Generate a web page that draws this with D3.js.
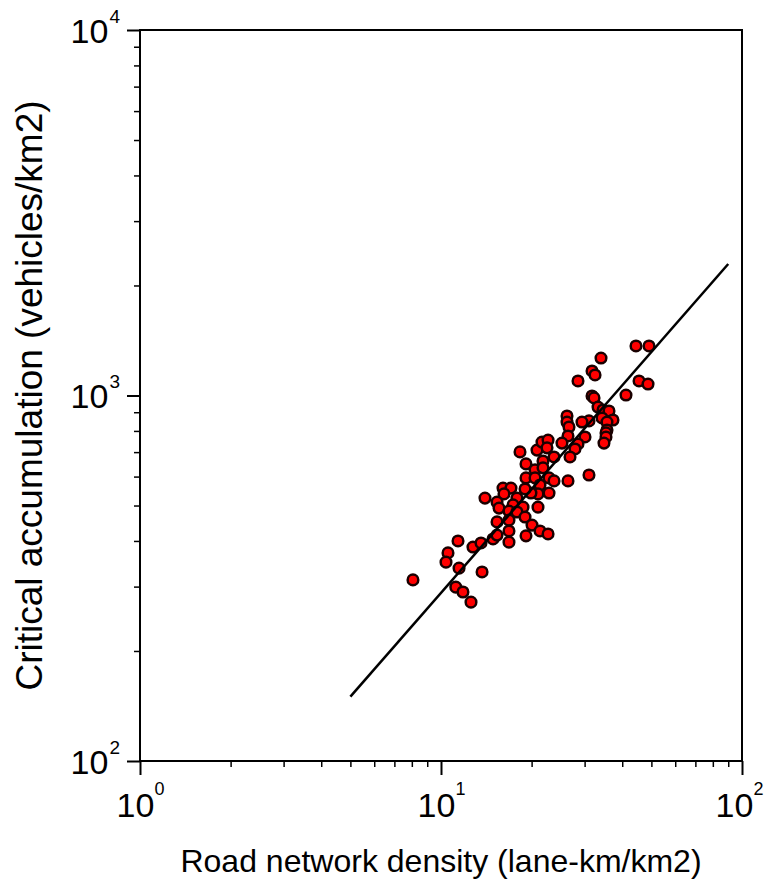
<!DOCTYPE html>
<html>
<head>
<meta charset="utf-8">
<script src="https://cdn.jsdelivr.net/npm/d3@7"></script>
<style>
  body { margin: 0; background: #fff; }
  text { font-family: Arial, "Liberation Sans", sans-serif; fill: #000; }
</style>
</head>
<body>
<div id="chart"></div>
<script>
// road network density (lane-km/km2)
const density = [
  8.07, 10.55, 10.39, 11.39, 11.48, 11.2, 11.83, 12.58, 12.77, 13.58, 13.69,
  18.3, 19.16, 20.84, 21.65, 22.68, 22.5, 21.82, 23.74, 20.53, 21.82,
  19.16, 20.53, 22.85, 23.74, 21.33, 21.0, 22.85, 19.9, 19.02, 17.88,
  16.07, 17.08, 16.19, 14.0, 15.35, 15.59, 17.35, 18.73, 16.82, 17.88,
  21.0, 19.02, 15.35, 16.82, 20.06, 21.33, 22.68, 19.16, 16.82, 14.89,
  16.82, 15.35,
  44.44, 49.1, 34.01, 31.75, 32.49, 28.52, 45.49, 48.73, 41.17, 31.75,
  32.24, 33.24, 34.53, 36.15, 37.27, 34.27, 31.02, 29.4, 26.22, 26.22,
  26.62, 35.6, 35.6, 35.33, 35.33, 34.79, 26.42, 30.09, 25.23, 28.52,
  27.87, 26.83, 31.02, 26.42
];
// critical accumulation (vehicles/km2)
const accumulation = [
  313, 371, 350, 400, 337, 299, 290, 272, 385, 395, 329,
  701, 650, 709, 746, 755, 719, 662, 679, 626, 634,
  595, 595, 595, 584, 569, 538, 541, 541, 555, 524,
  558, 558, 538, 524, 511, 492, 502, 495, 483, 480,
  495, 465, 451, 456, 442, 426, 418, 413, 426, 405,
  397, 415,
  1366, 1366, 1266, 1167, 1138, 1096, 1096, 1075, 1003, 997,
  985, 930, 913, 907, 857, 868, 852, 846, 879, 846,
  820, 846, 805, 790, 770, 741, 775, 770, 741, 737,
  714, 679, 606, 584
];
// fitted power-law line, end points
const fitX = [5, 90];
const fitY = [150, 2290];

const xTickValues = [1, 10, 100];
const xTickExp = ['0', '1', '2'];
const yTickValues = [100, 1000, 10000];
const yTickExp = ['2', '3', '4'];

const xTitle = 'Road network density (lane-km/km2)';
const yTitle = 'Critical accumulation (vehicles/km2)';

const width = 765;
const height = 880;
const plotLeft = 140, plotRight = 742, plotTop = 30, plotBottom = 761;

const svg = d3.select('#chart').append('svg')
  .attr('width', width)
  .attr('height', height);

const x = d3.scaleLog().domain([1, 100]).range([plotLeft, plotRight]);
const y = d3.scaleLog().domain([100, 10000]).range([plotBottom, plotTop]);

const isMajor = (v) => Math.abs(Math.log10(v) - Math.round(Math.log10(v))) < 1e-9;
const xMinor = x.ticks().filter((v) => !isMajor(v));
const yMinor = y.ticks().filter((v) => !isMajor(v));

// minor ticks
svg.append('g')
  .attr('transform', `translate(0,${plotBottom})`)
  .call(d3.axisBottom(x).tickValues(xMinor).tickSize(6).tickFormat(''))
  .call((g) => g.select('.domain').remove())
  .call((g) => g.selectAll('line').attr('stroke-width', 1.5));

svg.append('g')
  .attr('transform', `translate(${plotLeft},0)`)
  .call(d3.axisLeft(y).tickValues(yMinor).tickSize(6).tickFormat(''))
  .call((g) => g.select('.domain').remove())
  .call((g) => g.selectAll('line').attr('stroke-width', 1.5));

// major ticks with 10^n labels
const gx = svg.append('g')
  .attr('transform', `translate(0,${plotBottom})`)
  .call(d3.axisBottom(x).tickValues(xTickValues).tickSize(14).tickFormat(''));
gx.select('.domain').remove();
gx.selectAll('line').attr('stroke-width', 2);
gx.selectAll('.tick text').remove();
gx.selectAll('.tick').append('text')
  .attr('text-anchor', 'middle')
  .attr('x', (d, i) => (i === xTickValues.length - 1 ? -3 : 0))
  .attr('y', 56)
  .each(function (d, i) {
    const t = d3.select(this);
    t.append('tspan').attr('font-size', 34).text('10');
    t.append('tspan').attr('font-size', 18).attr('dy', -22).text(xTickExp[i]);
  });

const gy = svg.append('g')
  .attr('transform', `translate(${plotLeft},0)`)
  .call(d3.axisLeft(y).tickValues(yTickValues).tickSize(13).tickFormat(''));
gy.select('.domain').remove();
gy.selectAll('line').attr('stroke-width', 2);
gy.selectAll('.tick text').remove();
gy.selectAll('.tick').append('text')
  .attr('text-anchor', 'end')
  .attr('x', -20)
  .attr('y', 12)
  .each(function (d, i) {
    const t = d3.select(this);
    t.append('tspan').attr('font-size', 34).text('10');
    t.append('tspan').attr('font-size', 19).attr('dy', -20).attr('dx', 1).text(yTickExp[i]);
  });

// frame
svg.append('rect')
  .attr('x', plotLeft)
  .attr('y', plotTop)
  .attr('width', plotRight - plotLeft)
  .attr('height', plotBottom - plotTop)
  .attr('fill', 'none')
  .attr('stroke', '#000')
  .attr('stroke-width', 2);

// points
const points = density.map((d, i) => [d, accumulation[i]]);
svg.append('g')
  .selectAll('circle')
  .data(points)
  .enter()
  .append('circle')
  .attr('cx', (d) => x(d[0]))
  .attr('cy', (d) => y(d[1]))
  .attr('r', 5.3)
  .attr('fill', '#ff0000')
  .attr('stroke', '#1a0000')
  .attr('stroke-width', 2.5);

// fit line
const line = d3.line()
  .x((d) => x(d[0]))
  .y((d) => y(d[1]));
svg.append('path')
  .datum(fitX.map((d, i) => [d, fitY[i]]))
  .attr('d', line)
  .attr('fill', 'none')
  .attr('stroke', '#000')
  .attr('stroke-width', 2.5);

// titles
svg.append('text')
  .attr('x', (plotLeft + plotRight) / 2)
  .attr('y', 872)
  .attr('text-anchor', 'middle')
  .attr('font-size', 32)
  .text(xTitle);

svg.append('text')
  .attr('transform', `translate(42,${(plotTop + plotBottom) / 2}) rotate(-90)`)
  .attr('text-anchor', 'middle')
  .attr('font-size', 37)
  .text(yTitle);
</script>
</body>
</html>
